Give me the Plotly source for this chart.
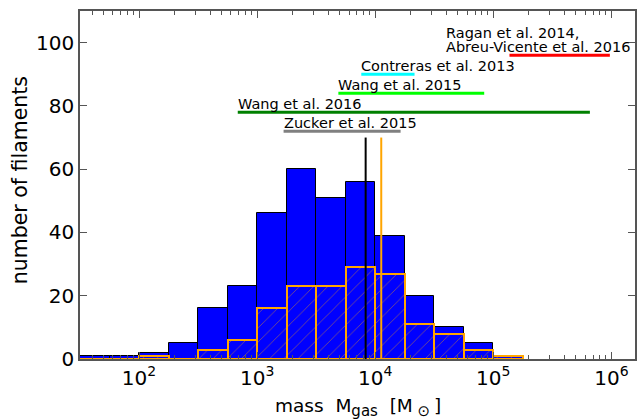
import numpy as np
import plotly.graph_objects as go

# ---- data -------------------------------------------------------------
# histogram bin edges in log10(M_gas / M_sun)
log_bin_edges = [1.5, 1.75, 2.0, 2.25, 2.5, 2.75, 3.0, 3.25, 3.5, 3.75,
                 4.0, 4.25, 4.5, 4.75, 5.0, 5.25]
all_counts = [1, 1, 2, 5, 16, 23, 46, 60, 51, 56, 39, 20, 10, 5, 1]
sub_counts = [0, 0, 1, 0, 3, 6, 16, 23, 23, 29, 27, 11, 8, 3, 1]

# medians (log10 mass) and their marker height
median_all = 3.919
median_sub = 4.051
median_height = 70

# literature mass ranges (log10 mass)
ref_labels = ["Ragan et al. 2014,<br>Abreu-Vicente et al. 2016",
              "Contreras et al. 2013", "Wang et al. 2015",
              "Wang et al. 2016", "Zucker et al. 2015"]
ref_lo = [5.137, 3.882, 3.688, 2.836, 3.224]
ref_hi = [5.987, 4.333, 4.923, 5.818, 4.215]
ref_y = [96, 90, 84, 78, 72]
ref_colors = ["#ff0000", "#00ffff", "#00ff00", "#008000", "#808080"]
ref_text_x = [4.597, 3.882, 3.688, 2.836, 3.224]

x_tick_vals = [2, 3, 4, 5, 6]
x_tick_text = ["10<sup>%d</sup>" % v for v in x_tick_vals]
y_tick_vals = [0, 20, 40, 60, 80, 100]

# ---- figure -----------------------------------------------------------
edges = np.array(log_bin_edges)
centers = 0.5 * (edges[:-1] + edges[1:])
widths = edges[1:] - edges[:-1]

fig = go.Figure()
fig.add_trace(go.Bar(x=centers, y=all_counts, width=widths,
                     marker=dict(color="#0000ff",
                                 line=dict(color="black", width=1)),
                     showlegend=False))
fig.add_trace(go.Bar(x=centers, y=sub_counts, width=widths,
                     marker=dict(color="rgba(0,0,0,0)",
                                 line=dict(color="#ffa500", width=2),
                                 pattern=dict(shape="/", fgcolor="#ffa500",
                                              fgopacity=0.5, size=10,
                                              solidity=0.08,
                                              bgcolor="rgba(0,0,0,0)")),
                     showlegend=False))

for xm, col in [(median_all, "black"), (median_sub, "#ffa500")]:
    fig.add_trace(go.Scatter(x=[xm, xm], y=[0, median_height], mode="lines",
                             line=dict(color=col, width=2),
                             showlegend=False, hoverinfo="skip"))

annotations = []
for lab, lo, hi, yv, col, tx in zip(ref_labels, ref_lo, ref_hi, ref_y,
                                    ref_colors, ref_text_x):
    fig.add_trace(go.Scatter(x=[lo, hi], y=[yv, yv], mode="lines",
                             line=dict(color=col, width=3),
                             showlegend=False, hoverinfo="skip"))
    lines = lab.split("<br>")
    for k, ln in enumerate(reversed(lines)):
        annotations.append(dict(x=tx, y=yv, xref="x", yref="y", text=ln,
                                showarrow=False, xanchor="left",
                                yanchor="bottom", yshift=-2 + 14 * k,
                                xshift=-2,
                                font=dict(size=14.5, color="black")))

# axis titles
annotations.append(dict(x=-60 / 557, y=(359 - 180) / 348, xref="paper",
                        yref="paper", text="number of filaments",
                        textangle=-90, showarrow=False, xanchor="center",
                        yanchor="middle", font=dict(size=20.5, color="black")))
annotations.append(dict(x=0.5, y=-48 / 348, xref="paper", yref="paper",
                        text="mass&nbsp;&nbsp;M<sub><span style='font-size:15px'>"
                             "gas</span></sub>&nbsp;&nbsp;[M<sub>"
                             "<span style='font-size:15px'>&nbsp;\u2299"
                             "</span></sub>\u2009]",
                        showarrow=False, xanchor="center", yanchor="middle",
                        font=dict(size=18.5, color="black")))

minor_vals = []
for d in range(1, 7):
    for k in range(2, 10):
        v = d + np.log10(k)
        if 1.5 <= v <= 6.2:
            minor_vals.append(v)

axis_common = dict(showgrid=False, zeroline=False, showline=True,
                   linecolor="#555555", linewidth=1.5, mirror="ticks",
                   ticks="inside", tickcolor="#555555", ticklen=7,
                   tickwidth=1, tickfont=dict(size=20, color="black"))

fig.update_layout(
    width=638, height=420,
    margin=dict(l=80, r=1, t=11, b=61),
    paper_bgcolor="white", plot_bgcolor="white",
    barmode="overlay", bargap=0,
    font=dict(family="DejaVu Sans", color="black"),
    xaxis=dict(range=[1.5, 6.2], tickmode="array", tickvals=x_tick_vals,
               ticktext=x_tick_text,
               minor=dict(tickmode="array", tickvals=minor_vals,
                          ticks="inside", ticklen=4, tickcolor="#555555",
                          showgrid=False),
               **axis_common),
    yaxis=dict(range=[0, 110], tickmode="array", tickvals=y_tick_vals,
               **axis_common),
    annotations=annotations,
)

fig.write_html("out.html", config={"displayModeBar": False},
               post_script="document.body.style.margin='0';"
                           "document.body.style.overflow='hidden';")
